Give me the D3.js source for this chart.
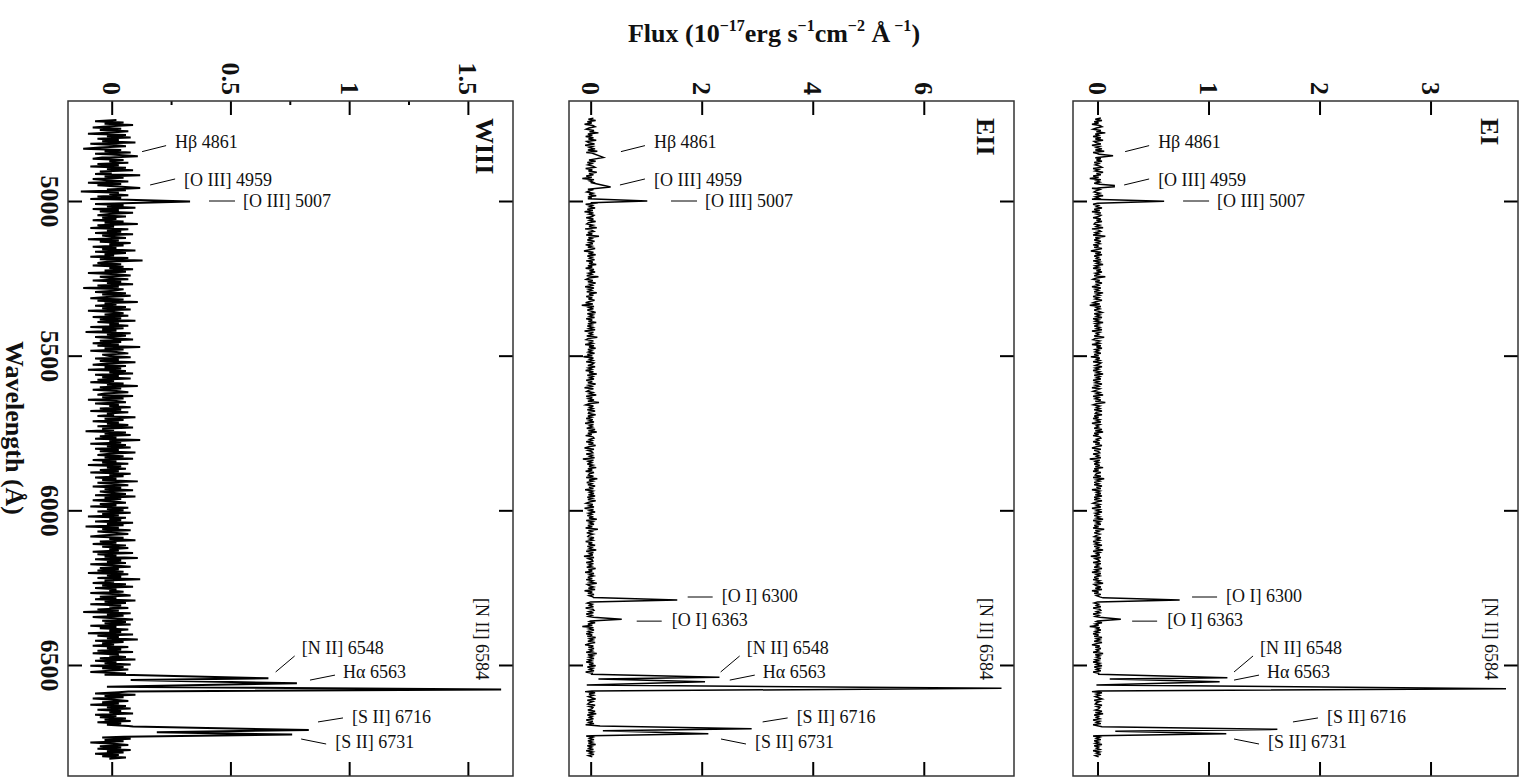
<!DOCTYPE html>
<html>
<head>
<meta charset="utf-8">
<script src="https://cdn.jsdelivr.net/npm/d3@7"></script>
<style>
body { margin: 0; background: #fff; }
text { font-family: "Liberation Serif", "Times New Roman", serif; fill: #111; }
</style>
</head>
<body>
<div id="chart"></div>
<script>
// Wavelength axis (shared by the three panels)
const waveTicks = [5000, 5500, 6000, 6500];
const waveDomain = [4676.7, 6858.9];

// Flux axis ticks per panel
const wiiiTicks = [0, 0.5, 1, 1.5];
const wiiiMinor = [0.25, 0.75, 1.25];
const eiiTicks = [0, 2, 4, 6];
const eiTicks = [0, 1, 2, 3];

// Continuum noise, flux in units of 0.01, evenly spread over each range (Å)
const wiiiRange = [4738, 6803];
const wiiiNoise = [
	2,-7,5,-3,9,-1,-8,4,-5,7,0,-10,6,-2,8,-6,3,-4,10,-9,
	1,6,-5,-12,4,-3,8,-7,2,11,-4,-8,5,-1,7,-6,3,-9,6,-2,
	9,-5,0,-7,12,-3,5,-8,-2,7,-10,4,-6,8,1,-4,6,-13,3,-1,
	7,-6,4,-9,2,8,-3,-7,5,-2,10,-8,3,-5,9,-1,-6,6,-4,2,
	-8,5,-3,11,-6,1,-9,7,-2,4,-7,9,-4,0,6,-10,3,-5,8,-1,
	5,-8,2,-4,10,-7,6,-3,1,-9,7,-5,13,-2,-6,4,-8,5,-1,9,
	-3,6,-10,2,8,-5,-1,7,-8,4,-2,9,-6,3,-12,5,1,-7,6,-4,
	8,-2,-9,5,-6,11,-3,2,-7,6,-4,8,-10,1,5,-3,7,-8,4,-5,
	10,-6,3,-1,7,-9,5,-4,2,-11,8,-2,6,-7,1,9,-5,4,-8,3,
	-6,12,-3,5,-9,2,7,-4,-1,8,-7,3,-5,10,-2,-8,6,-3,4,-10,
	6,-1,9,-7,3,-4,8,-6,1,-9,5,-2,11,-5,4,-8,2,7,-3,-6,
	9,-4,5,-10,2,6,-7,3,-1,8,-5,4,-9,7,-2,1,-6,10,-3,5,
	-8,3,-2,7,-6,9,-4,1,-11,6,-3,8,-5,2,-7,12,-1,4,-9,6,
	-2,8,-7,3,-5,10,-1,-6,5,-3,9,-8,2,-4,7,-10,4,-2,6,-5,
	3,-9,8,-1,5,-7,2,-4,11,-6,1,7,-8,4,-3,9,-5,0,6,-7,
	10,-3,4,-8,1,6,-5,2,-9,7,-2,5,-6,8,-4,3,-10,6,-1,4,
	-7,9,-2,5,-11,3,-4,8,-6,1,7,-3,-9,5,-1,10,-5,2,-8,6,
	-4,7,-1,3,-8,9,-6,2,-3,11,-7,4,-2,6,-9,1,8,-5,3,-6,
	5,-10,7,-2,4,-6,12,-3,1,-8,6,-4,9,-7,2,-1,5,-9,3,8,
	-5,2,-7,10,-3,6,-9,4,-1,7,-6,3,-12,8,-2,5,-8,1,9,-4,
	6,-3,8,-9,2,-5,7,-1,4,-10,9,-6,3,-2,11,-7,5,-4,1,-8,
	7,-2,4,-6,9,-8,3,-1,6,-5,10,-7,2,-3,8,-9,5,-4,7,-1,
	-9,6,-3,5,-7,2,8,-4,1,-6,9,-2,4,-8,6,-5,3,-7,10,-3,
	5,-8,1,7,-4,3,-9,6,-2,8,-6,4,-1,9,-7,2,-5,6,-3,8,
	-6,4,-2,7,-8,3,-5,9,-1,6,-7,2,-4,8,-3,5,-9,1,7,-5,
	4,-6,8,-2,5,-7,3,-4,6,-1
];

const eiiRange = [4732, 6797];
const eiiNoise = [
	5,-4,9,-6,2,-11,4,8,-3,-8,6,-2,14,-5,3,-9,5,-4,10,-7,
	-3,7,-10,4,-2,8,-5,12,-8,3,-4,6,-13,7,-3,9,-6,2,-5,4,
	8,-9,3,-4,11,-3,5,-8,2,-15,6,-2,4,-7,9,-4,3,-10,5,-2,
	-7,4,-3,10,-5,2,-8,7,-4,13,-9,3,-2,8,-6,4,-11,5,-3,6,
	3,-8,5,-2,9,-4,-7,4,-3,11,-10,2,6,-5,3,-8,15,-4,2,-6,
	7,-3,4,-9,2,-5,8,-2,-12,5,-4,9,-6,3,-2,7,-8,4,-3,10,
	-5,3,-9,6,-2,8,-4,2,-7,14,-3,-8,4,-5,9,-2,3,-10,6,-4,
	2,-7,11,-3,5,-8,3,-4,7,-2,-9,4,-16,6,-3,5,-6,2,9,-6,
	4,-2,7,-8,3,-4,10,-5,2,-6,4,-3,8,-11,5,-2,3,-7,12,-4,
	-8,5,-2,4,-10,6,-3,9,-5,2,-4,7,-6,3,-13,5,-2,4,-8,6,
	3,-5,8,-4,2,-9,5,-3,11,-6,4,-2,6,-8,3,-5,9,-4,2,-11,
	5,-3,-7,4,-2,10,-8,3,-4,6,-5,15,-3,-9,5,-2,4,-6,8,-3,
	-4,9,-5,2,-8,4,-3,6,-10,5,-2,3,-7,8,-4,11,-5,2,-9,4,
	6,-2,3,-8,5,-4,9,-3,-11,6,-5,2,4,-8,3,-2,7,-14,5,-4,
	2,-6,4,-3,10,-5,3,-9,6,-2,-4,5,-8,12,-3,4,-7,2,-5,8,
	-3,5,-10,4,-2,6,-4,8,-6,3,-5,9,-2,-8,4,-3,6,-11,5,-2,
	8,-4,2,-6,5,-3,11,-8,4,-2,6,-5,3,-9,13,-4,2,-7,4,-3,
	-5,6,-2,4,-9,3,-4,8,-6,2,-3,10,-8,5,-2,4,-12,6,-4,3,
	4,-8,5,-3,2,-7,9,-4,3,-10,6,-2,5,-5,3,-8,4,-2,11,-6,
	-2,5,-4,8,-11,3,-5,6,-3,4,-8,2,-4,9,-6,3,-2,5,-9,4,
	6,-3,5,-8,2,-4,10,-6,4,-2,8,-5,3,-15,5,-3,6,-4,2,-8,
	3,-6,9,-2,4,-5,8,-3,-10,5,-4,6,-2,3,-8,11,-5,4,-3,6,
	-4,2,-8,5,-3,9,-6,4,-2,6,-9,3,-5,8,-3,2,-6,10,-4,5,
	-8,4,-2,6,-5,3,-10,8,-3,5,-4,2,9,-6,4,-2,-5,8,-3,4,
	2,-5,8,-4,10,-6,3,-2,5,-8,4,-3,6,-9,2,-4,8,-5,3,-6,
	5,-3,-8,4,-2,6,-5,3,-4,9,-6,2,-3,5,-8,4,-2,6,-4,3
];

const eiRange = [4732, 6797];
const eiNoise = [
	3,-2,4,-3,1,-5,2,4,-1,-4,3,-1,7,-2,1,-4,3,-2,5,-3,
	-1,3,-5,2,-1,4,-2,6,-4,1,-2,3,-7,3,-1,4,-3,1,-2,2,
	4,-4,1,-2,5,-1,3,-4,1,-7,3,-1,2,-3,4,-2,1,-5,2,-1,
	-3,2,-1,5,-2,1,-4,3,-2,6,-4,1,-1,4,-3,2,-5,3,-1,3,
	1,-4,3,-1,4,-2,-3,2,-1,5,-5,1,3,-2,1,-4,7,-2,1,-3,
	3,-1,2,-4,1,-3,4,-1,-6,3,-2,4,-3,1,-1,3,-4,2,-1,5,
	-2,1,-4,3,-1,4,-2,1,-3,7,-1,-4,2,-2,4,-1,1,-5,3,-2,
	1,-3,5,-1,2,-4,1,-2,4,-1,-4,2,-7,3,-1,2,-3,1,4,-3,
	2,-1,4,-4,1,-2,5,-2,1,-3,2,-1,4,-5,2,-1,1,-3,6,-2,
	-4,2,-1,2,-5,3,-1,4,-2,1,-2,3,-3,1,-6,2,-1,2,-4,3,
	1,-2,4,-2,1,-4,2,-1,5,-3,2,-1,3,-4,1,-2,4,-2,1,-5,
	2,-1,-4,2,-1,5,-4,1,-2,3,-2,7,-1,-4,2,-1,2,-3,4,-1,
	-2,4,-3,1,-4,2,-1,3,-5,2,-1,1,-3,4,-2,5,-3,1,-4,2,
	3,-1,1,-4,2,-2,4,-1,-5,3,-3,1,2,-4,1,-1,3,-7,2,-2,
	1,-3,2,-2,5,-3,1,-4,3,-1,-2,3,-4,6,-1,2,-3,1,-3,4,
	-1,3,-5,2,-1,3,-2,4,-3,1,-3,4,-1,-4,2,-1,3,-5,2,-1,
	4,-2,1,-3,2,-1,5,-4,2,-1,3,-3,1,-4,6,-2,1,-3,2,-1,
	-3,3,-1,2,-4,1,-2,4,-3,1,-1,5,-4,2,-1,2,-6,3,-2,1,
	2,-4,3,-1,1,-3,4,-2,1,-5,3,-1,2,-3,1,-4,2,-1,5,-3,
	-1,3,-2,4,-5,1,-3,3,-1,2,-4,1,-2,4,-3,1,-1,3,-4,2,
	3,-1,2,-4,1,-2,5,-3,2,-1,4,-2,1,-7,2,-1,3,-2,1,-4,
	1,-3,4,-1,2,-3,4,-1,-5,2,-2,3,-1,1,-4,5,-2,2,-1,3,
	-2,1,-4,2,-1,4,-3,2,-1,3,-4,1,-2,4,-1,1,-3,5,-2,2,
	-4,2,-1,3,-3,1,-5,4,-1,2,-2,1,4,-3,2,-1,-2,4,-1,2,
	1,-2,4,-2,5,-3,1,-1,2,-4,2,-1,3,-4,1,-2,4,-3,1,-3,
	2,-1,-4,2,-1,3,-3,1,-2,4,-3,1,-1,2,-4,2,-1,3,-2,1
];

// Emission line profiles, [wavelength, flux]
const wiiiLines = [
	[[4850, 0.0], [4855, 0.11], [4859, -0.01]],
	[[4952, 0.01], [4958, 0.12], [4963, -0.02]],
	[[4995, 0.03], [5002, 0.33], [5009, -0.03]],
	[[6532, 0.09], [6543, 0.66], [6548.5, 0.08], [6559, 0.78], [6570, -0.02], [6579, 1.64], [6586, 0.07]],
	[[6699, 0.09], [6710, 0.83], [6717.7, 0.19], [6725, 0.76], [6732, 0.05]]
];
const eiiLines = [
	[[4845, 0.02], [4859, 0.23], [4867, -0.02]],
	[[4940, 0.0], [4955, 0.36], [4962, -0.05]],
	[[4993, -0.05], [5000, 1.02], [5006, 0.0]],
	[[6282, 0.05], [6290, 1.56], [6296, 0.0]],
	[[6346, 0.05], [6352, 0.56], [6358, 0.0]],
	[[6530, 0.02], [6540, 2.32], [6545.6, 0.14], [6554, 2.06], [6564.7, -0.07], [6575.5, 7.40], [6584, 0.02]],
	[[6697, 0.17], [6706, 2.90], [6713, 0.22], [6722, 2.12], [6728.5, 0.02]]
];
const eiLines = [
	[[4848, 0.0], [4854, 0.14], [4860, -0.02]],
	[[4946, 0.02], [4950, 0.15], [4954, 0.15], [4958, 0.0]],
	[[4994, -0.05], [5001, 0.60], [5007, 0.0]],
	[[6283, 0.05], [6290, 0.74], [6296, 0.0]],
	[[6346, 0.02], [6352, 0.21], [6358, 0.0]],
	[[6530, 0.01], [6541, 1.17], [6545.6, 0.11], [6554, 1.10], [6564.7, -0.01], [6576.6, 3.68], [6584, 0.01]],
	[[6699.5, 0.04], [6708, 1.62], [6714.6, 0.16], [6722, 1.16], [6728.5, -0.01]]
];

// Line labels: text row (Å) and flux where the text starts, per panel
const labelNames = ["Hβ 4861", "[O III] 4959", "[O III] 5007", "[O I] 6300", "[O I] 6363", "[N II] 6548", "Hα 6563", "[S II] 6716", "[S II] 6731"];
const labelWaves = [4808, 4932, 5000, 6277, 6355, 6445, 6523, 6668, 6749];
const wiiiLabelFlux = [0.267, 0.305, 0.553, null, null, 0.80, 0.974, 1.012, 0.941];
const eiiLabelFlux = [1.14, 1.14, 2.06, 2.36, 1.46, 2.81, 3.10, 3.71, 2.96];
const eiLabelFlux = [0.546, 0.546, 1.077, 1.158, 0.627, 1.464, 1.527, 2.067, 1.536];
const niiName = "[N II] 6584";
const niiWave = 6416;

// leader lines, px offsets from the text start: x0, y0, x1, y1
const leaders = [[-33, 10, -9, 4], [-34, 5, -9, -1], [-34, 0, -8, 0], [-34, 1, -9, 1], [-35, 1, -10, 1],
	[-26, 24, -7, 8], [-33, 8, -8, 3], [-34, 5, -9, 1], [-34, -3, -9, 2]];

const panels = [
	{name: "WIII", left: 68, right: 513, flux: [-0.184, 1.69], ticks: wiiiTicks, minor: wiiiMinor,
		range: wiiiRange, noise: wiiiNoise, lines: wiiiLines, labels: wiiiLabelFlux, nii: 1.56, stroke: 2},
	{name: "EII", left: 569, right: 1014, flux: [-0.39, 7.625], ticks: eiiTicks, minor: [],
		range: eiiRange, noise: eiiNoise, lines: eiiLines, labels: eiiLabelFlux, nii: 7.13, stroke: 1.5},
	{name: "EI", left: 1073, right: 1518, flux: [-0.221, 3.788], ticks: eiTicks, minor: [],
		range: eiRange, noise: eiNoise, lines: eiLines, labels: eiLabelFlux, nii: 3.55, stroke: 1.5}
];

const frameTop = 101, frameBottom = 776;

function buildSpectrum(range, noise, lines) {
	const step = (range[1] - range[0]) / (noise.length - 1);
	let pts = noise.map((v, i) => ({w: range[0] + i * step, f: v / 100}));
	lines.forEach(seg => {
		const lo = seg[0][0], hi = seg[seg.length - 1][0];
		pts = pts.filter(p => p.w < lo || p.w > hi);
		seg.forEach(p => pts.push({w: p[0], f: p[1]}));
	});
	return pts.sort((a, b) => a.w - b.w);
}

const svg = d3.select("#chart")
	.append("svg")
	.attr("width", 1526)
	.attr("height", 777);

const y = d3.scaleLinear().domain(waveDomain).range([frameTop, frameBottom]);

function styleAxis(g) {
	g.attr("font-family", null).attr("font-size", null);
	g.selectAll(".domain").remove();
	g.selectAll("line").attr("stroke", "#000").attr("stroke-width", 2);
}

panels.forEach((p, pi) => {
	const x = d3.scaleLinear().domain(p.flux).range([p.left, p.right]);
	const g = svg.append("g");

	// flux ticks, top with rotated labels
	g.append("g")
		.attr("transform", `translate(0,${frameTop})`)
		.call(d3.axisTop(x).tickValues(p.ticks).tickSize(-14).tickFormat(d => String(d)))
		.call(styleAxis)
		.selectAll("text")
		.attr("x", 0).attr("y", 0).attr("dy", "0.35em")
		.attr("text-anchor", "end")
		.attr("font-size", 26).attr("font-weight", "bold").attr("fill", "#000")
		.attr("transform", "translate(0,-6) rotate(90)");

	if (p.minor.length) {
		g.append("g")
			.attr("transform", `translate(0,${frameTop})`)
			.call(d3.axisTop(x).tickValues(p.minor).tickSize(-4).tickFormat(""))
			.call(styleAxis);
	}

	g.append("g")
		.attr("transform", `translate(0,${frameBottom})`)
		.call(d3.axisBottom(x).tickValues(p.ticks).tickSize(-14).tickFormat(""))
		.call(styleAxis);

	// wavelength ticks
	const leftAxis = g.append("g")
		.attr("transform", `translate(${p.left},0)`)
		.call(d3.axisLeft(y).tickValues(waveTicks).tickSize(-14).tickFormat(pi == 0 ? d => String(d) : ""))
		.call(styleAxis);
	leftAxis.selectAll("text")
		.attr("x", 0).attr("dy", "0.35em")
		.attr("text-anchor", "middle")
		.attr("font-size", 26).attr("font-weight", "bold").attr("fill", "#000")
		.attr("transform", "translate(-18,0) rotate(90)");

	g.append("g")
		.attr("transform", `translate(${p.right},0)`)
		.call(d3.axisRight(y).tickValues(waveTicks).tickSize(-14).tickFormat(""))
		.call(styleAxis);

	// frame
	g.append("rect")
		.attr("x", p.left).attr("y", frameTop)
		.attr("width", p.right - p.left).attr("height", frameBottom - frameTop)
		.attr("fill", "none").attr("stroke", "#333").attr("stroke-width", 1.5);

	// spectrum
	const spec = buildSpectrum(p.range, p.noise, p.lines);
	g.append("path")
		.datum(spec)
		.attr("fill", "none")
		.attr("stroke", "#000")
		.attr("stroke-width", p.stroke)
		.attr("stroke-linejoin", "miter")
		.attr("d", d3.line().x(d => x(d.f)).y(d => y(d.w)));

	// line labels
	labelNames.forEach((name, i) => {
		if (p.labels[i] == null) return;
		const tx = x(p.labels[i]), ty = y(labelWaves[i]);
		const l = leaders[i];
		g.append("line")
			.attr("x1", tx + l[0]).attr("y1", ty + l[1])
			.attr("x2", tx + l[2]).attr("y2", ty + l[3])
			.attr("stroke", "#000").attr("stroke-width", 1);
		g.append("text")
			.attr("x", tx).attr("y", ty).attr("dy", "0.35em")
			.attr("font-size", 18)
			.text(name);
	});

	g.append("text")
		.attr("transform", `translate(${x(p.nii)},${y(niiWave)}) rotate(90)`)
		.attr("text-anchor", "middle")
		.attr("dy", "0.35em")
		.attr("font-size", 18)
		.text(niiName);

	// panel name
	g.append("text")
		.attr("transform", `translate(${p.right - 28},${frameTop + 17}) rotate(90)`)
		.attr("dy", "0.35em")
		.attr("font-size", 26)
		.attr("font-weight", "bold")
		.attr("fill", "#000")
		.text(p.name);
});

// axis titles
svg.append("text")
	.attr("transform", "translate(15,428) rotate(90)")
	.attr("text-anchor", "middle")
	.attr("dy", "0.35em")
	.attr("font-size", 26)
	.attr("font-weight", "bold")
	.attr("fill", "#000")
	.text("Wavelength (Å)");

const title = svg.append("text")
	.attr("x", 774).attr("y", 42)
	.attr("text-anchor", "middle")
	.attr("font-size", 26)
	.attr("font-weight", "bold")
	.attr("fill", "#000");
title.append("tspan").text("Flux (10");
title.append("tspan").attr("font-size", 16).attr("dy", -11).text("−17");
title.append("tspan").attr("dy", 11).text("erg s");
title.append("tspan").attr("font-size", 16).attr("dy", -11).text("−1");
title.append("tspan").attr("dy", 11).text("cm");
title.append("tspan").attr("font-size", 16).attr("dy", -11).text("−2");
title.append("tspan").attr("dy", 11).text(" Å");
title.append("tspan").attr("font-size", 16).attr("dy", -11).text(" −1");
title.append("tspan").attr("dy", 11).text(")");
</script>
</body>
</html>
